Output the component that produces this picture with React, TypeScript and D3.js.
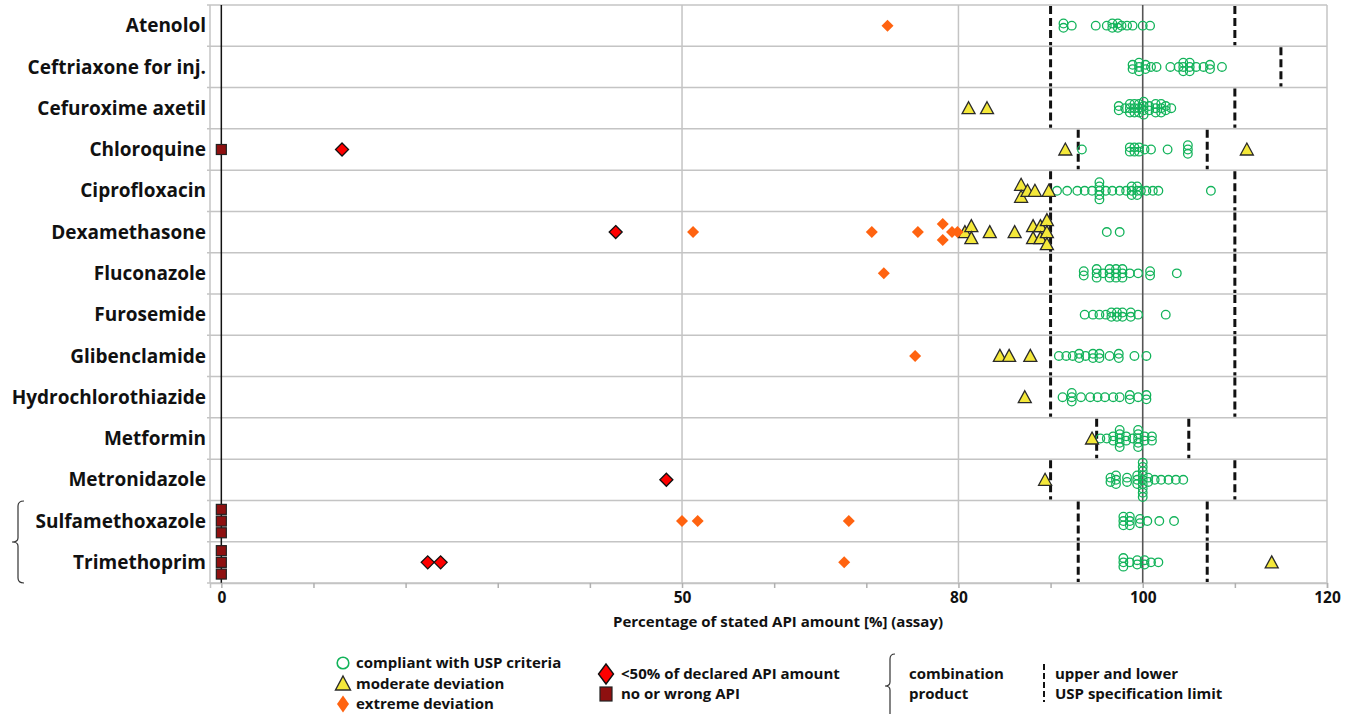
import React, { useEffect, useRef } from 'react';
import * as d3 from 'd3';

// drugs, top to bottom
const drugs = [
  'Atenolol', 'Ceftriaxone for inj.', 'Cefuroxime axetil', 'Chloroquine', 'Ciprofloxacin',
  'Dexamethasone', 'Fluconazole', 'Furosemide', 'Glibenclamide', 'Hydrochlorothiazide',
  'Metformin', 'Metronidazole', 'Sulfamethoxazole', 'Trimethoprim',
];

// USP specification limits per drug
const specLower = [90, 90, 90, 93, 90, 90, 90, 90, 90, 90, 95, 90, 93, 93];
const specUpper = [110, 115, 110, 107, 110, 110, 110, 110, 110, 110, 105, 110, 107, 107];

// assay results (% of stated API), one list per drug
const compliant = [
  [91.4, 91.4, 92.3, 94.9, 96.1, 96.7, 96.7, 97.3, 97.3, 97.7, 98.3, 98.9, 100, 100.8],
  [98.9, 98.9, 99.6, 99.6, 99.6, 100.3, 100.3, 100.9, 101.5, 103, 103.9, 104.4, 104.4, 104.4, 105.1, 105.1, 105.1, 105.8, 106.6, 107.3, 107.3, 108.6],
  [97.4, 97.4, 98.1, 98.6, 98.6, 98.6, 99.1, 99.1, 99.1, 99.6, 99.6, 99.6, 100.1, 100.1, 100.1, 100.1, 100.7, 100.7, 101.4, 101.4, 101.4, 102, 102, 102, 102.5, 102.5, 103.1],
  [93.4, 98.6, 98.6, 99.1, 99.1, 99.6, 99.6, 100.2, 100.9, 102.7, 104.9, 104.9, 104.9],
  [90.7, 91.8, 92.9, 93.7, 94.5, 95.3, 95.3, 95.3, 95.3, 95.3, 96, 96.7, 97.5, 98.2, 98.8, 98.8, 98.8, 99.4, 99.4, 99.4, 99.8, 100.4, 101.1, 101.7, 107.4],
  [96.1, 97.5],
  [93.6, 93.6, 95, 95, 95, 95.7, 96.4, 96.4, 96.4, 97.1, 97.1, 97.1, 97.8, 97.8, 97.8, 98.6, 99.5, 100.8, 100.8, 103.7],
  [93.7, 94.6, 95.3, 96, 96.6, 96.6, 97.2, 97.2, 97.8, 97.8, 98.7, 98.7, 99.5, 102.5],
  [90.9, 91.7, 92.4, 93.1, 93.1, 93.8, 94.6, 94.6, 95.3, 95.3, 96.4, 97.4, 97.4, 99.1, 100.4],
  [91.3, 92.3, 92.3, 92.3, 93.3, 94.3, 95.1, 95.9, 96.8, 97.5, 98.6, 98.6, 99.5, 100.4, 100.4],
  [95.4, 96.1, 96.8, 96.8, 97.5, 97.5, 97.5, 97.5, 97.5, 98.2, 98.2, 98.9, 99.5, 99.5, 99.5, 99.5, 99.5, 100.2, 100.2, 101, 101],
  [96.5, 96.5, 97.1, 97.1, 97.1, 98.3, 98.3, 99.4, 99.4, 99.4, 100, 100, 100, 100, 100, 100, 100, 100, 100, 100.6, 100.6, 101.3, 102, 102.8, 103.6, 104.4],
  [97.9, 97.9, 97.9, 98.6, 98.6, 98.6, 99.7, 99.7, 100.5, 101.8, 103.4],
  [97.9, 97.9, 97.9, 98.6, 99.4, 99.4, 100.2, 100.2, 100.9, 101.7],
];
const moderate = [
  [], [], [81.1, 83.1], [91.6, 111.3], [86.8, 86.8, 87.5, 88.3, 89.8],
  [80.7, 81.4, 81.4, 83.4, 86.1, 88.1, 88.1, 88.9, 88.9, 89.6, 89.6, 89.6],
  [], [], [84.5, 85.5, 87.8], [87.2], [94.5], [89.4], [], [114],
];
const extreme = [
  [72.3], [], [], [], [], [51.2, 70.6, 75.6, 78.3, 78.3, 79.3, 79.9],
  [71.9], [], [75.3], [], [], [], [50, 51.7, 68.1], [67.6],
];
const below50 = [[], [], [], [13.1], [], [42.8], [], [], [], [], [], [48.3], [], [22.4, 23.8]];
const noApi = [[], [], [], [0], [], [], [], [], [], [], [], [], [0, 0, 0], [0, 0, 0]];

const tickValues = [0, 10, 20, 30, 40, 50, 60, 70, 80, 90, 100, 110, 120];
const labeledTicks = [0, 50, 80, 100, 120];
const gridValues = [50, 80];

const FONT = '"Open Sans", "Noto Sans", sans-serif';

// stack equal values of one list vertically, centered on the row
function stack(values: number[], spacing: number) {
  const groups = d3.group(values, v => v);
  const out: { v: number; dy: number }[] = [];
  groups.forEach((arr, v) => {
    arr.forEach((_, k) => out.push({ v, dy: (k - (arr.length - 1) / 2) * spacing }));
  });
  return out;
}

const App = () => {
  const ref = useRef<SVGSVGElement>(null);

  useEffect(() => {
    document.body.style.margin = '0';
    document.body.style.overflow = 'hidden';
    const svg = d3.select(ref.current);
    svg.selectAll('*').remove();

    const left = 210, right = 1327, top = 5, bottom = 583;
    const x = d3.scaleLinear().domain([-1.23, 120]).range([left, right]);
    const y = d3.scaleBand().domain(drugs).range([top, bottom]);
    const bw = y.bandwidth();

    // horizontal row lines
    svg.append('g').selectAll('line')
      .data(d3.range(drugs.length + 1))
      .join('line')
      .attr('x1', left - 3).attr('x2', right)
      .attr('y1', i => top + i * bw).attr('y2', i => top + i * bw)
      .attr('stroke', '#c4c4c4').attr('stroke-width', 1.5);

    // vertical grid
    svg.append('g').selectAll('line')
      .data(gridValues)
      .join('line')
      .attr('x1', d => x(d)).attr('x2', d => x(d))
      .attr('y1', top).attr('y2', bottom)
      .attr('stroke', '#c4c4c4').attr('stroke-width', 1.5);
    svg.append('line').attr('x1', left).attr('x2', left).attr('y1', top).attr('y2', bottom)
      .attr('stroke', '#c4c4c4').attr('stroke-width', 1.5);
    svg.append('line').attr('x1', right).attr('x2', right).attr('y1', top).attr('y2', bottom)
      .attr('stroke', '#c4c4c4').attr('stroke-width', 1.5);
    svg.append('line').attr('x1', x(100)).attr('x2', x(100)).attr('y1', top).attr('y2', bottom)
      .attr('stroke', '#555').attr('stroke-width', 1.6);
    svg.append('line').attr('x1', x(0)).attr('x2', x(0)).attr('y1', top).attr('y2', bottom)
      .attr('stroke', '#111').attr('stroke-width', 1.5);

    // axis
    const axis = svg.append('g')
      .attr('transform', `translate(0,${bottom})`)
      .call(d3.axisBottom(x).tickValues(tickValues).tickSize(5).tickPadding(4)
        .tickFormat(d => (labeledTicks.includes(+d) ? String(d) : '')));
    axis.select('.domain').attr('stroke', '#c4c4c4').attr('stroke-width', 1.5);
    axis.selectAll('.tick line').attr('stroke', '#b0b0b0').attr('stroke-width', 1.5);
    axis.selectAll('.tick text')
      .attr('font-family', FONT).attr('font-weight', 700).attr('font-size', 15.5).attr('fill', '#111');

    svg.append('text')
      .attr('x', 778).attr('y', 627)
      .attr('text-anchor', 'middle')
      .attr('font-family', FONT).attr('font-weight', 700).attr('font-size', 15).attr('fill', '#111')
      .text('Percentage of stated API amount [%] (assay)');

    // drug labels
    svg.append('g').selectAll('text')
      .data(drugs)
      .join('text')
      .attr('x', 206)
      .attr('y', d => (y(d) as number) + bw / 2)
      .attr('dy', '0.35em')
      .attr('text-anchor', 'end')
      .attr('font-family', FONT).attr('font-weight', 700).attr('font-size', 19).attr('fill', '#111')
      .text(d => d);

    // combination product bracket
    svg.append('path')
      .attr('d', 'M24,501 Q18,501 18,506 L18,538 Q18,542 12,542 Q18,542 18,546 L18,578 Q18,583 24,583')
      .attr('fill', 'none').attr('stroke', '#333').attr('stroke-width', 1.2);

    // spec limits
    const specs = drugs.flatMap((d, i) => [specLower[i], specUpper[i]].map(v => ({ d, v })));
    svg.append('g').selectAll('line')
      .data(specs)
      .join('line')
      .attr('x1', s => x(s.v)).attr('x2', s => x(s.v))
      .attr('y1', s => (y(s.d) as number) + 1).attr('y2', s => (y(s.d) as number) + bw - 1)
      .attr('stroke', '#111').attr('stroke-width', 3).attr('stroke-dasharray', '8,4');

    const rowY = (i: number) => (y(drugs[i]) as number) + bw / 2;

    const tri = 'M0,-6.5L6.5,5.5L-6.5,5.5Z';
    const dia = (h: number, w: number) => `M0,${-h}L${w},0L0,${h}L${-w},0Z`;

    // compliant circles
    svg.append('g').selectAll('g')
      .data(compliant)
      .join('g')
      .each(function (vals, i) {
        d3.select(this).selectAll('circle')
          .data(stack(vals, 4.3))
          .join('circle')
          .attr('cx', p => x(p.v)).attr('cy', p => rowY(i) + p.dy)
          .attr('r', 4.3)
          .attr('fill', 'none').attr('stroke', '#12b35a').attr('stroke-width', 1.3);
      });

    // moderate deviation
    svg.append('g').selectAll('g')
      .data(moderate)
      .join('g')
      .each(function (vals, i) {
        d3.select(this).selectAll('path')
          .data(stack(vals, 12))
          .join('path')
          .attr('d', tri)
          .attr('transform', p => `translate(${x(p.v)},${rowY(i) + p.dy})`)
          .attr('fill', '#f4e83a').attr('stroke', '#2a2a2a').attr('stroke-width', 1.3);
      });

    // extreme deviation
    svg.append('g').selectAll('g')
      .data(extreme)
      .join('g')
      .each(function (vals, i) {
        d3.select(this).selectAll('path')
          .data(stack(vals, 16))
          .join('path')
          .attr('d', dia(6, 6))
          .attr('transform', p => `translate(${x(p.v)},${rowY(i) + p.dy})`)
          .attr('fill', '#ff6310');
      });

    // < 50 %
    svg.append('g').selectAll('g')
      .data(below50)
      .join('g')
      .each(function (vals, i) {
        d3.select(this).selectAll('path')
          .data(stack(vals, 14))
          .join('path')
          .attr('d', dia(6.5, 6.5))
          .attr('transform', p => `translate(${x(p.v)},${rowY(i) + p.dy})`)
          .attr('fill', '#ff0000').attr('stroke', '#111').attr('stroke-width', 1.3);
      });

    // no or wrong API
    svg.append('g').selectAll('g')
      .data(noApi)
      .join('g')
      .each(function (vals, i) {
        d3.select(this).selectAll('rect')
          .data(stack(vals, 11.7))
          .join('rect')
          .attr('x', p => x(p.v) - 5).attr('y', p => rowY(i) + p.dy - 5)
          .attr('width', 10).attr('height', 10)
          .attr('fill', '#8e1010').attr('stroke', '#222').attr('stroke-width', 1.2);
      });

    // legend
    const lg = svg.append('g')
      .attr('font-family', FONT).attr('font-weight', 700).attr('font-size', 15).attr('fill', '#111');
    const label = (tx: number, ty: number, t: string) =>
      lg.append('text').attr('x', tx).attr('y', ty).attr('dy', '0.35em').text(t);

    lg.append('circle').attr('cx', 343).attr('cy', 663).attr('r', 5.8)
      .attr('fill', 'none').attr('stroke', '#12b35a').attr('stroke-width', 1.6);
    label(356, 663, 'compliant with USP criteria');
    lg.append('path').attr('d', 'M0,-8L7.5,6L-7.5,6Z').attr('transform', 'translate(343,684)')
      .attr('fill', '#f4e83a').attr('stroke', '#2a2a2a').attr('stroke-width', 1.4);
    label(356, 684, 'moderate deviation');
    lg.append('path').attr('d', dia(8.5, 6)).attr('transform', 'translate(343,704)')
      .attr('fill', '#ff6310');
    label(356, 704, 'extreme deviation');

    lg.append('path').attr('d', dia(10, 7.5)).attr('transform', 'translate(606,674)')
      .attr('fill', '#ff0000').attr('stroke', '#111').attr('stroke-width', 1.4);
    label(621, 674, '<50% of declared API amount');
    lg.append('rect').attr('x', 600).attr('y', 687).attr('width', 12).attr('height', 14)
      .attr('fill', '#8e1010').attr('stroke', '#222').attr('stroke-width', 1.2);
    label(621, 694, 'no or wrong API');

    lg.append('path')
      .attr('d', 'M895,654 Q890,654 890,659 L890,682 Q890,686 885,686 Q890,686 890,690 L890,714')
      .attr('fill', 'none').attr('stroke', '#333').attr('stroke-width', 1.2);
    label(909, 674, 'combination');
    label(909, 694, 'product');

    lg.append('line').attr('x1', 1044).attr('x2', 1044).attr('y1', 664).attr('y2', 702)
      .attr('stroke', '#111').attr('stroke-width', 2).attr('stroke-dasharray', '6,3');
    label(1055, 674, 'upper and lower');
    label(1055, 694, 'USP specification limit');
  }, []);

  return <svg ref={ref} width={1349} height={714} style={{ display: 'block' }} />;
};

export default App;
